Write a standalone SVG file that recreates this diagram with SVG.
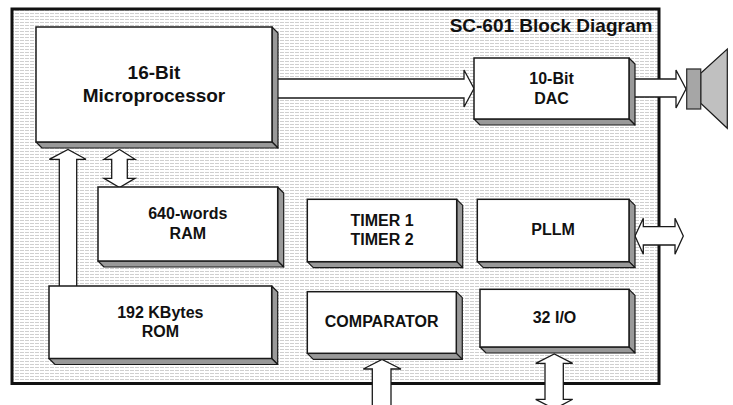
<svg xmlns="http://www.w3.org/2000/svg" width="733" height="405" viewBox="0 0 733 405">
<defs>
<pattern id="hatch" width="5" height="3" patternUnits="userSpaceOnUse">
<rect width="5" height="3" fill="#ffffff"/>
<rect x="0" y="1" width="4" height="1" fill="#cfcfcf"/>
</pattern>
</defs>
<style>
.face{fill:#ffffff;stroke:#1a1a1a;stroke-width:1.5}
.side{fill:#999999;stroke:#1a1a1a;stroke-width:1.2;stroke-linejoin:round}
.arrow{fill:#ffffff;stroke:#1a1a1a;stroke-width:1.3;stroke-linejoin:miter}
.shadow{fill:none;stroke:#9a9a9a;stroke-width:1.2}
.lbl{font-family:"Liberation Sans",Arial,sans-serif;font-weight:bold;font-size:16px;fill:#111;text-anchor:middle}
.big{font-size:19px}
</style>
<rect x="0" y="0" width="733" height="405" fill="#ffffff"/>
<g id="frame">
<rect x="12" y="9" width="647" height="374.5" fill="url(#hatch)" stroke="#111" stroke-width="3"/>
<text class="lbl big" x="551" y="31.7">SC-601 Block Diagram</text>
</g>
<g id="connectors">
<path class="arrow" d="M270,79 H464 V70 L474,88.5 L464,107 V98 H270 Z"/>
<path class="arrow" d="M625,79 H676 V70 L686,89 L676,108 V97 H625 Z"/>
<path class="arrow" d="M59.3,292 V159.3 H49.3 L68,149.5 L86,159.3 H76.7 V292 Z"/>
<path class="arrow" d="M111.7,159.3 H104 L119.5,149.5 L135,159.3 H127.3 V178.3 H135 L119.5,187.5 L104,178.3 H111.7 Z"/>
<path class="arrow" d="M635,236 L643.3,218.3 V226.7 H675 V218.3 L683.3,236 L675,254.3 V245 H643.3 V254.3 Z"/>
<path class="arrow" d="M372.3,410 V369 H363.3 L382,359.5 L401,369 H391 V410 Z"/>
<path class="arrow" d="M545,363.3 H535.7 L554.3,354 L572.7,363.3 H563.3 V399.3 H572.7 L554.3,409 L535.7,399.3 H545 Z"/>
</g>
<g id="speaker">
<polygon points="700.7,73.3 727.3,49 727.3,128.3 700.7,103.3" fill="#c0c0c0" stroke="#1a1a1a" stroke-width="1.2"/>
<rect x="686.7" y="69" width="14" height="40" fill="#a6a6a6" stroke="#333" stroke-width="1.3"/>
</g>
<g id="micro">
<polygon class="side" points="272,27 278,33 278,148 272,142"/>
<polygon class="side" points="36,142 272,142 278,148 42,148"/>
<rect class="face" x="36" y="27" width="236" height="115"/>
<text class="lbl big" x="154" y="79.3">16-Bit</text>
<text class="lbl big" x="154" y="101.7">Microprocessor</text>
</g>
<g id="dac">
<polygon class="side" points="629,58 635,64 635,125 629,119"/>
<polygon class="side" points="474,119 629,119 635,125 480,125"/>
<rect class="face" x="474" y="58" width="155" height="61"/>
<text class="lbl" x="551.5" y="84.3">10-Bit</text>
<text class="lbl" x="551.5" y="104">DAC</text>
</g>
<g id="ram">
<polygon class="side" points="277.7,187 283.7,193 283.7,267 277.7,261"/>
<polygon class="side" points="98,261 277.7,261 283.7,267 104,267"/>
<rect class="face" x="98" y="187" width="179.7" height="74"/>
<text class="lbl" x="187.8" y="219">640-words</text>
<text class="lbl" x="187.8" y="239">RAM</text>
</g>
<g id="rom">
<polygon class="side" points="271.7,286 277.7,292 277.7,364.5 271.7,358.5"/>
<polygon class="side" points="49,358.5 271.7,358.5 277.7,364.5 55,364.5"/>
<rect class="face" x="49" y="286" width="222.7" height="72.5"/>
<text class="lbl" x="160.3" y="318.3">192 KBytes</text>
<text class="lbl" x="160.3" y="336.7">ROM</text>
</g>
<g id="timer">
<polygon class="side" points="456.7,199.3 462.7,205.3 462.7,267.7 456.7,261.7"/>
<polygon class="side" points="307.3,261.7 456.7,261.7 462.7,267.7 313.3,267.7"/>
<rect class="face" x="307.3" y="199.3" width="149.4" height="62.4"/>
<text class="lbl" x="382" y="225.7">TIMER 1</text>
<text class="lbl" x="382" y="245">TIMER 2</text>
</g>
<g id="pllm">
<polygon class="side" points="629,199.3 635,205.3 635,267.7 629,261.7"/>
<polygon class="side" points="477.3,261.7 629,261.7 635,267.7 483.3,267.7"/>
<rect class="face" x="477.3" y="199.3" width="151.7" height="62.4"/>
<text class="lbl" x="553" y="235">PLLM</text>
</g>
<g id="comparator">
<polygon class="side" points="456.3,291.7 462.3,297.7 462.3,359.3 456.3,353.3"/>
<polygon class="side" points="307.3,353.3 456.3,353.3 462.3,359.3 313.3,359.3"/>
<rect class="face" x="307.3" y="291.7" width="149" height="61.6"/>
<text class="lbl" x="381.7" y="326.7">COMPARATOR</text>
</g>
<g id="io32">
<polygon class="side" points="629,289.3 635,295.3 635,353 629,347"/>
<polygon class="side" points="480,347 629,347 635,353 486,353"/>
<rect class="face" x="480" y="289.3" width="149" height="57.7"/>
<text class="lbl" x="554.5" y="323.3">32 I/O</text>
</g>
</svg>
